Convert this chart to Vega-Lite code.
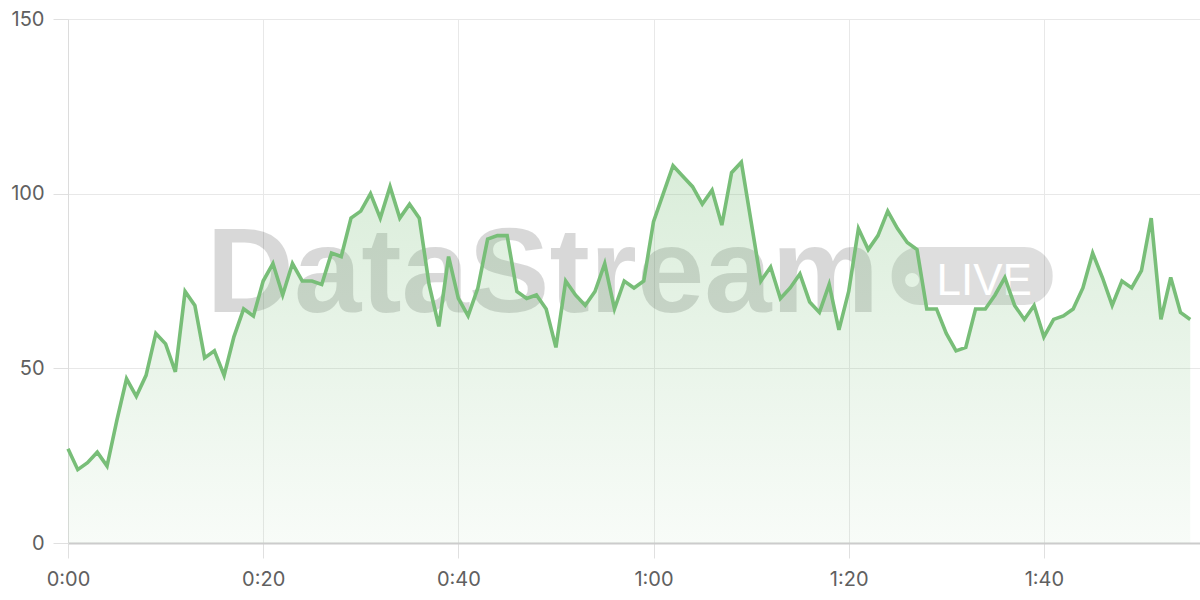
{
  "$schema": "https://vega.github.io/schema/vega-lite/v6.json",
  "width": 1132,
  "height": 524,
  "autosize": "none",
  "padding": {"left": 68, "top": 19, "right": 0, "bottom": 57},
  "background": "#ffffff",
  "config": {
    "view": {"stroke": null},
    "axis": {
      "labelFont": "Inter",
      "labelFontSize": 20,
      "labelColor": "#606060",
      "gridColor": "#e8e8e8",
      "gridWidth": 1,
      "tickColor": "#e0e0e0",
      "tickSize": 15,
      "title": null
    }
  },
  "data": {
    "values": [
      {"t": 0, "v": 27}, {"t": 1, "v": 21}, {"t": 2, "v": 23}, {"t": 3, "v": 26}, {"t": 4, "v": 22},
      {"t": 5, "v": 35}, {"t": 6, "v": 47}, {"t": 7, "v": 42}, {"t": 8, "v": 48}, {"t": 9, "v": 60},
      {"t": 10, "v": 57}, {"t": 11, "v": 49}, {"t": 12, "v": 72}, {"t": 13, "v": 68}, {"t": 14, "v": 53},
      {"t": 15, "v": 55}, {"t": 16, "v": 48}, {"t": 17, "v": 59}, {"t": 18, "v": 67}, {"t": 19, "v": 65},
      {"t": 20, "v": 75}, {"t": 21, "v": 80}, {"t": 22, "v": 71}, {"t": 23, "v": 80}, {"t": 24, "v": 75},
      {"t": 25, "v": 75}, {"t": 26, "v": 74}, {"t": 27, "v": 83}, {"t": 28, "v": 82}, {"t": 29, "v": 93},
      {"t": 30, "v": 95}, {"t": 31, "v": 100}, {"t": 32, "v": 93}, {"t": 33, "v": 102}, {"t": 34, "v": 93},
      {"t": 35, "v": 97}, {"t": 36, "v": 93}, {"t": 37, "v": 74}, {"t": 38, "v": 62}, {"t": 39, "v": 82},
      {"t": 40, "v": 70}, {"t": 41, "v": 65}, {"t": 42, "v": 73}, {"t": 43, "v": 87}, {"t": 44, "v": 88},
      {"t": 45, "v": 88}, {"t": 46, "v": 72}, {"t": 47, "v": 70}, {"t": 48, "v": 71}, {"t": 49, "v": 67},
      {"t": 50, "v": 56}, {"t": 51, "v": 75}, {"t": 52, "v": 71}, {"t": 53, "v": 68}, {"t": 54, "v": 72},
      {"t": 55, "v": 80}, {"t": 56, "v": 67}, {"t": 57, "v": 75}, {"t": 58, "v": 73}, {"t": 59, "v": 75},
      {"t": 60, "v": 92}, {"t": 61, "v": 100}, {"t": 62, "v": 108}, {"t": 63, "v": 105}, {"t": 64, "v": 102},
      {"t": 65, "v": 97}, {"t": 66, "v": 101}, {"t": 67, "v": 91}, {"t": 68, "v": 106}, {"t": 69, "v": 109},
      {"t": 70, "v": 92}, {"t": 71, "v": 75}, {"t": 72, "v": 79}, {"t": 73, "v": 70}, {"t": 74, "v": 73},
      {"t": 75, "v": 77}, {"t": 76, "v": 69}, {"t": 77, "v": 66}, {"t": 78, "v": 74}, {"t": 79, "v": 61},
      {"t": 80, "v": 72}, {"t": 81, "v": 90}, {"t": 82, "v": 84}, {"t": 83, "v": 88}, {"t": 84, "v": 95},
      {"t": 85, "v": 90}, {"t": 86, "v": 86}, {"t": 87, "v": 84}, {"t": 88, "v": 67}, {"t": 89, "v": 67},
      {"t": 90, "v": 60}, {"t": 91, "v": 55}, {"t": 92, "v": 56}, {"t": 93, "v": 67}, {"t": 94, "v": 67},
      {"t": 95, "v": 71}, {"t": 96, "v": 76}, {"t": 97, "v": 68}, {"t": 98, "v": 64}, {"t": 99, "v": 68},
      {"t": 100, "v": 59}, {"t": 101, "v": 64}, {"t": 102, "v": 65}, {"t": 103, "v": 67}, {"t": 104, "v": 73},
      {"t": 105, "v": 83}, {"t": 106, "v": 76}, {"t": 107, "v": 68}, {"t": 108, "v": 75}, {"t": 109, "v": 73},
      {"t": 110, "v": 78}, {"t": 111, "v": 93}, {"t": 112, "v": 64}, {"t": 113, "v": 76}, {"t": 114, "v": 66},
      {"t": 115, "v": 64}
    ]
  },
  "layer": [
    {
      "mark": {"type": "line", "opacity": 0, "strokeWidth": 0},
      "encoding": {
        "x": {
          "field": "t",
          "type": "quantitative",
          "scale": {"domain": [0, 116], "nice": false, "zero": false},
          "axis": {
            "values": [0, 20, 40, 60, 80, 100],
            "labelExpr": "floor(datum.value / 60) + ':' + (datum.value % 60 < 10 ? '0' : '') + (datum.value % 60)",
            "grid": true,
            "domain": true,
            "domainColor": "#cccccc",
            "domainWidth": 2,
            "labelPadding": 11,
            "labelFlush": false
          }
        },
        "y": {
          "field": "v",
          "type": "quantitative",
          "scale": {"domain": [0, 150], "nice": false},
          "axis": {
            "values": [0, 50, 100, 150],
            "grid": true,
            "domain": true,
            "domainColor": "#dcdcdc",
            "labelPadding": 9
          }
        }
      }
    },
    {
      "data": {"values": [{"label": "DataStream"}]},
      "mark": {"type": "text", "font": "Liberation Sans", "fontWeight": "bold", "fontSize": 121, "align": "left", "baseline": "alphabetic", "fill": "#000000", "opacity": 0.15},
      "encoding": {
        "x": {"datum": 14.2, "type": "quantitative"},
        "y": {"datum": 66.1, "type": "quantitative"},
        "text": {"field": "label"}
      }
    },
    {
      "data": {"values": [{}]},
      "mark": {"type": "rect", "cornerRadius": 28, "fill": "#000000", "opacity": 0.13},
      "encoding": {
        "x": {"datum": 84.4, "type": "quantitative"},
        "x2": {"datum": 100.9},
        "y": {"datum": 84.7, "type": "quantitative"},
        "y2": {"datum": 68.1}
      }
    },
    {
      "data": {"values": [{}]},
      "mark": {"type": "point", "shape": "circle", "filled": true, "fill": "#ffffff", "opacity": 1, "size": 200},
      "encoding": {
        "x": {"datum": 86.5, "type": "quantitative"},
        "y": {"datum": 75.3, "type": "quantitative"}
      }
    },
    {
      "data": {"values": [{"label": "LIVE"}]},
      "mark": {"type": "text", "font": "Liberation Sans", "fontSize": 44, "align": "left", "baseline": "alphabetic", "fill": "#ffffff"},
      "encoding": {
        "x": {"datum": 89.0, "type": "quantitative"},
        "y": {"datum": 71.0, "type": "quantitative"},
        "text": {"field": "label"}
      }
    },
    {
      "mark": {
        "type": "area",
        "color": {
          "gradient": "linear",
          "x1": 1, "y1": 1, "x2": 1, "y2": 0,
          "stops": [
            {"offset": 0, "color": "rgba(120,190,120,0.05)"},
            {"offset": 1, "color": "rgba(120,190,120,0.28)"}
          ]
        }
      },
      "encoding": {
        "x": {"field": "t", "type": "quantitative"},
        "y": {"field": "v", "type": "quantitative"}
      }
    },
    {
      "mark": {"type": "line", "color": "#78be78", "strokeWidth": 3.6, "strokeJoin": "miter"},
      "encoding": {
        "x": {"field": "t", "type": "quantitative"},
        "y": {"field": "v", "type": "quantitative"}
      }
    }
  ]
}
